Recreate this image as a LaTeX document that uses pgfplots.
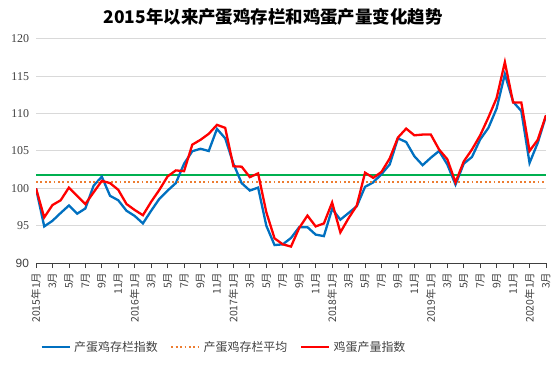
\documentclass[border=0pt]{standalone}
\usepackage{pgfplots}
\pgfplotsset{compat=1.18}
\usepackage{fontspec}
\setmainfont{Liberation Serif}
\newfontfamily\cjk{Noto Sans CJK SC}
\newfontfamily\sansf{Liberation Sans}
\definecolor{cblue}{HTML}{0070C0}
\definecolor{cred}{HTML}{FF0000}
\definecolor{corange}{HTML}{ED7D31}
\definecolor{cgreen}{HTML}{00B050}
\definecolor{cgrid}{HTML}{D9D9D9}
\definecolor{ctext}{HTML}{404040}
\pgfplotstableread{
i blue red
0 100.0 100.0
1 94.9 96.1
2 95.65 97.76
3 96.7 98.4
4 97.7 100.1
5 96.6 99.0
6 97.3 97.9
7 100.35 99.46
8 101.56 101.0
9 99.0 100.7
10 98.4 99.8
11 97.0 97.9
12 96.3 97.1
13 95.3 96.4
14 97.0 98.2
15 98.6 99.8
16 99.7 101.6
17 100.7 102.4
18 103.3 102.3
19 104.97 105.85
20 105.3 106.5
21 105.0 107.3
22 107.96 108.5
23 106.7 108.1
24 103.3 102.95
25 100.7 102.9
26 99.7 101.5
27 100.1 102.0
28 95.0 96.8
29 92.4 93.3
30 92.5 92.5
31 93.35 92.2
32 94.8 94.7
33 94.8 96.35
34 93.8 94.9
35 93.6 95.3
36 97.25 98.1
37 95.8 94.1
38 96.7 96.0
39 97.6 97.7
40 100.2 102.1
41 100.8 101.4
42 101.9 102.2
43 103.2 104.0
44 106.7 106.8
45 106.2 108.0
46 104.3 107.1
47 103.1 107.2
48 104.1 107.2
49 105.0 105.2
50 103.2 103.9
51 100.5 100.8
52 103.3 103.6
53 104.2 105.2
54 106.55 107.1
55 108.1 109.5
56 110.7 112.1
57 115.3 116.9
58 111.6 111.5
59 110.35 111.5
60 103.4 105.0
61 106.1 106.5
62 109.7 109.8
}\datatable
\begin{document}
\begin{tikzpicture}
\useasboundingbox (-36bp,-104bp) rectangle (518bp,263bp);
\begin{axis}[
  at={(0,0)}, anchor=south west,
  scale only axis, width=510bp, height=224bp,
  xmin=0, xmax=62, ymin=90, ymax=120,
  ytick={90,95,...,120},
  yticklabels={{\sansf 90},95,100,105,110,115,120},
  xtick={0,2,...,62},
  xticklabels={2015年1月,3月,5月,7月,9月,11月,2016年1月,3月,5月,7月,9月,11月,2017年1月,3月,5月,7月,9月,11月,2018年1月,3月,5月,7月,9月,11月,2019年1月,3月,5月,7月,9月,11月,2020年1月,3月},
  axis x line*=bottom, axis y line*=left,
  y axis line style={draw=none},
  x axis line style={draw=ctext, line width=0.8bp, -},
  xtick align=outside,
  major tick length=5bp,
  xtick style={draw=ctext, line width=0.8bp},
  ytick style={draw=none},
  ymajorgrids,
  grid style={draw=cgrid, line width=1bp},
  /pgf/number format/assume math mode=true,
  yticklabel style={font=\fontsize{12}{12}\selectfont, text=ctext, xshift=-3.5bp},
  xticklabel style={rotate=90, anchor=east, font=\cjk\fontsize{10.5}{10.5}\selectfont, text=ctext, inner sep=4.5bp},
  title={\cjk\bfseries 2015年以来产蛋鸡存栏和鸡蛋产量变化趋势},
  title style={at={(0.465,1.07)}, anchor=center, font=\fontsize{17.5}{17.5}\selectfont},
  legend style={at={(0.368,-0.375)}, anchor=center, draw=none, fill=none, legend columns=3,
    font=\cjk\fontsize{12}{12}\selectfont, text=ctext,
    nodes={inner sep=1.5bp},
    /tikz/every odd column/.append style={column sep=2bp},
    /tikz/every even column/.append style={column sep=11bp}},
  legend image code/.code={\draw[#1] (0bp,0bp) -- (28bp,0bp);},
]
\addplot[cgreen, line width=2.6bp, forget plot] coordinates {(0,101.8) (62,101.8)};
\addplot[cblue, line width=2.3bp] table[x=i, y=blue] {\datatable};
\addlegendentry{产蛋鸡存栏指数}
\addplot[corange, line width=1.8bp, dash pattern=on 1.8bp off 2.6bp] coordinates {(0,100.9) (62,100.9)};
\addlegendentry{产蛋鸡存栏平均}
\addplot[cred, line width=2.3bp] table[x=i, y=red] {\datatable};
\addlegendentry{鸡蛋产量指数}
\end{axis}
\end{tikzpicture}
\end{document}
